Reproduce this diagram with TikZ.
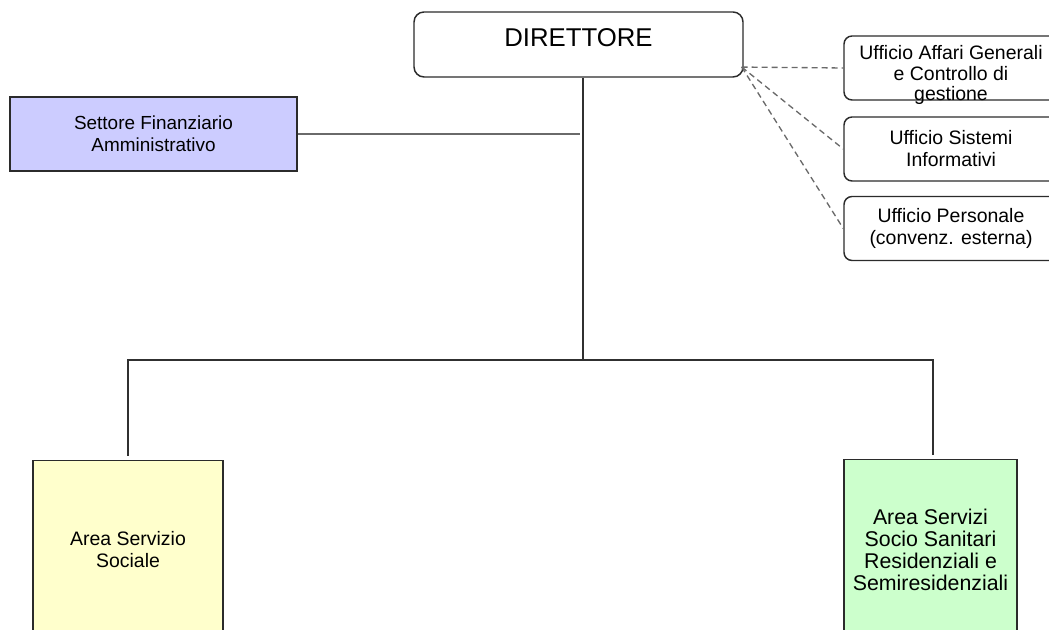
\documentclass[tikz,border=0pt]{standalone}
\usepackage{fontspec}
\setmainfont{Liberation Sans}
\usepackage{xcolor}
\usepackage{tikz}
\usetikzlibrary{calc,positioning}
\definecolor{edge}{HTML}{2B2B2B}
\definecolor{wire}{HTML}{303030}
\definecolor{wiregray}{HTML}{6A6A6A}
\definecolor{lilac}{HTML}{CCCCFF}
\definecolor{cream}{HTML}{FFFFCC}
\definecolor{mint}{HTML}{CCFFCC}
\tikzset{
  orgbox/.style={draw=edge, line width=1.1pt, align=center, inner sep=2pt, font=\fontsize{14.6pt}{16.5pt}\selectfont},
  roundbox/.style={orgbox, rounded corners=6pt, minimum width=160.5pt, minimum height=48pt},
  link/.style={draw=wire, line width=1.1pt},
  linkg/.style={draw=wiregray, line width=1.1pt},
  staff/.style={draw=wiregray, line width=1pt, dash pattern=on 4.5pt off 3pt},
  lab/.style={align=center, font=\fontsize{14.6pt}{15.5pt}\selectfont},
}

\begin{document}
\begin{tikzpicture}[x=0.75pt, y=-0.75pt]
\useasboundingbox (0,0) rectangle (1049,630);
\clip (0,0) rectangle (1049,630);

\node[roundbox, rounded corners=7.5pt, minimum width=246.75pt, minimum height=48.75pt,
  text depth=10.5pt, font=\fontsize{19.3pt}{22pt}\selectfont] (dir) at (578.5,44.5) {DIRETTORE};
\coordinate (dirport) at ([xshift=-1.5pt,yshift=8pt]dir.south east);

% uffici di staff
\node[roundbox] (uff1) at (951,68) {};
\node[lab] (uff1txt) at ([yshift=-5.25pt]uff1.center) {Ufficio Affari Generali\\e Controllo di\\gestione};
\node[roundbox] (uff2) at (951,149) {Ufficio Sistemi\\Informativi};
\node[roundbox] (uff3) at (951,228.5) {Ufficio Personale\\(convenz. esterna)};
\foreach \n in {uff1,uff2,uff3}{
  \draw[staff] (dirport) -- (\n.west);
}

\node[orgbox, fill=lilac, minimum width=215.25pt, minimum height=55.5pt,
  font=\fontsize{14.2pt}{16.5pt}\selectfont] (sett) at (153.5,134) {Settore Finanziario\\Amministrativo};
\coordinate (settend) at (580,134);
\draw[linkg] (sett.east) -- (settend);

\coordinate (bus) at (583,360);
\draw[link] (dir.south -| bus) -- (bus);

% aree
\node[orgbox, fill=cream, anchor=north, minimum width=142.5pt, minimum height=132.75pt] (area1) at (128,460) {Area Servizio\\Sociale};
\node[orgbox, fill=mint, anchor=north, minimum width=129.75pt, minimum height=135pt,
  font=\fontsize{16pt}{16.6pt}\selectfont] (area2) at (930.5,459) {Area Servizi\\Socio Sanitari\\Residenziali e\\Semiresidenziali};
\draw[link] ([yshift=3pt]area1.north) |- (bus) -| ([xshift=2pt,yshift=3pt]area2.north);
\end{tikzpicture}
\end{document}
